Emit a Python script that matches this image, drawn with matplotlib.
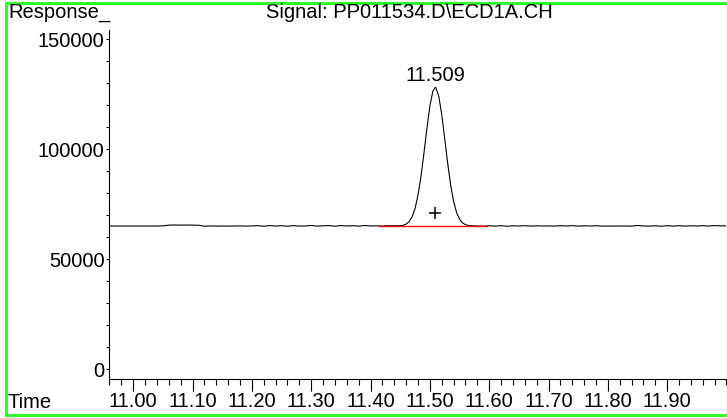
import matplotlib
matplotlib.use("Agg")
import matplotlib.pyplot as plt
from matplotlib.ticker import MultipleLocator, FormatStrFormatter
from matplotlib.lines import Line2D

plt.rcParams['font.family'] = ['Liberation Sans', 'DejaVu Sans']

# chromatogram trace (time in min, response)
time = [10.96, 10.97, 10.98, 10.99, 11.00, 11.01, 11.02, 11.03, 11.04, 11.05,
        11.06, 11.07, 11.08, 11.09, 11.10, 11.11, 11.12, 11.13, 11.14, 11.15,
        11.16, 11.17, 11.18, 11.19, 11.20, 11.21, 11.22, 11.23, 11.24, 11.25,
        11.26, 11.27, 11.28, 11.29, 11.30, 11.31, 11.32, 11.33, 11.34, 11.35,
        11.36, 11.37, 11.38, 11.39, 11.40, 11.41, 11.42, 11.43, 11.44,
        11.445, 11.450, 11.455, 11.460, 11.465, 11.470, 11.475, 11.480, 11.485,
        11.490, 11.495, 11.500, 11.505, 11.509, 11.510, 11.515, 11.520, 11.525,
        11.530, 11.535, 11.540, 11.545, 11.550, 11.555, 11.560, 11.565, 11.570,
        11.575,
        11.58, 11.59, 11.60, 11.61, 11.62, 11.63, 11.64, 11.65, 11.66, 11.67,
        11.68, 11.69, 11.70, 11.71, 11.72, 11.73, 11.74, 11.75, 11.76, 11.77,
        11.78, 11.79, 11.80, 11.81, 11.82, 11.83, 11.84, 11.85, 11.86, 11.87,
        11.88, 11.89, 11.90, 11.91, 11.92, 11.93, 11.94, 11.95, 11.96, 11.97,
        11.98, 11.99, 12.00]
response = [65000, 65000, 65000, 65000, 65000, 65000, 65000, 65000, 65000, 65050,
            65400, 65450, 65400, 65450, 65400, 65350, 64900, 65050, 64950, 65000,
            64950, 65000, 65050, 64950, 65050, 65150, 64900, 65200, 64950, 65150,
            64900, 65200, 64950, 65000, 65250, 64950, 65100, 65200, 64900, 65200,
            65000, 65150, 64950, 65250, 65000, 65100, 64950, 65150, 65050,
            65100, 65150, 65340, 65850, 66960, 69110, 72940, 78960, 87440,
            98000, 109350, 119500, 126200, 128000, 127900, 124060, 115700, 104800,
            93600, 83770, 76270, 71180, 68100, 66420, 65600, 65230, 65100,
            65050,
            65000, 64950, 65100, 64950, 65150, 64900, 65100, 65000, 65150, 64950,
            65100, 65000, 65050, 64950, 65150, 65000, 65150, 64950, 65100, 65000,
            65150, 64950, 65000, 64950, 65000, 65000, 64950, 65250, 65000, 64950,
            65100, 64900, 65150, 64950, 65150, 64950, 65100, 65000, 65150, 64950,
            65200, 65050, 65100]

# integration baseline and peak marker
base_time = [11.414, 11.596]
base_resp = [64900, 64900]
peak_rt = 11.509
peak_top = 128000
mark_resp = 70900

x_ticks = [11.00, 11.10, 11.20, 11.30, 11.40, 11.50, 11.60, 11.70, 11.80, 11.90]
y_ticks = [0, 50000, 100000, 150000]

fs = 14.5

fig = plt.figure(figsize=(7.27, 4.18), dpi=100)
ax = fig.add_axes([0.1506, 0.0933, 0.9993 - 0.1506, 0.9282 - 0.0933])

ax.plot(time, response, color='black', lw=0.8)
ax.plot(base_time, base_resp, color='red', lw=1.0)
ax.plot([peak_rt], [mark_resp], marker='+', color='black', ms=9, mew=1.1)
ax.annotate('11.509', xy=(peak_rt, peak_top), xytext=(0, 2),
            textcoords='offset points', ha='center', va='bottom', fontsize=fs)

ax.set_xticks(x_ticks)
ax.set_yticks(y_ticks)
ax.xaxis.set_minor_locator(MultipleLocator(0.02))
ax.xaxis.set_major_formatter(FormatStrFormatter('%.2f'))
ax.yaxis.set_minor_locator(MultipleLocator(10000))
ax.set_xlim(10.96, 12.0)
ax.set_ylim(-4545, 154090)

ax.spines['top'].set_visible(False)
ax.spines['right'].set_visible(False)
ax.spines['left'].set_linewidth(0.8)
ax.spines['bottom'].set_linewidth(0.8)

ax.tick_params(axis='x', which='major', length=8.5, width=0.8, pad=0.5, labelsize=fs)
ax.tick_params(axis='x', which='minor', length=4.2, width=0.8)
ax.tick_params(axis='y', which='major', length=2.5, width=0.8, pad=1, labelsize=fs)
ax.tick_params(axis='y', which='minor', length=2.5, width=0.8)

# header / footer labels
fig.text(8 / 727, 1 - 13 / 418, 'Response_', ha='left', va='center', fontsize=fs)
fig.text(409 / 727, 1 - 13 / 418, 'Signal: PP011534.D\\ECD1A.CH',
         ha='center', va='center', fontsize=fs)
fig.text(8 / 727, 1 - 402 / 418, 'Time', ha='left', va='center', fontsize=fs)

# green frame (open on the right)
green = '#2aff2a'
fig.add_artist(Line2D([5.5 / 727, 5.5 / 727], [3 / 418, 1 - 3 / 418], color=green, lw=2.2,
                      transform=fig.transFigure))
fig.add_artist(Line2D([5.5 / 727, 1.02], [1 - 3 / 418, 1 - 3 / 418], color=green, lw=2.2,
                      transform=fig.transFigure))
fig.add_artist(Line2D([5.5 / 727, 1.02], [3 / 418, 3 / 418], color=green, lw=2.2,
                      transform=fig.transFigure))

fig.savefig('out.png', dpi=100)
